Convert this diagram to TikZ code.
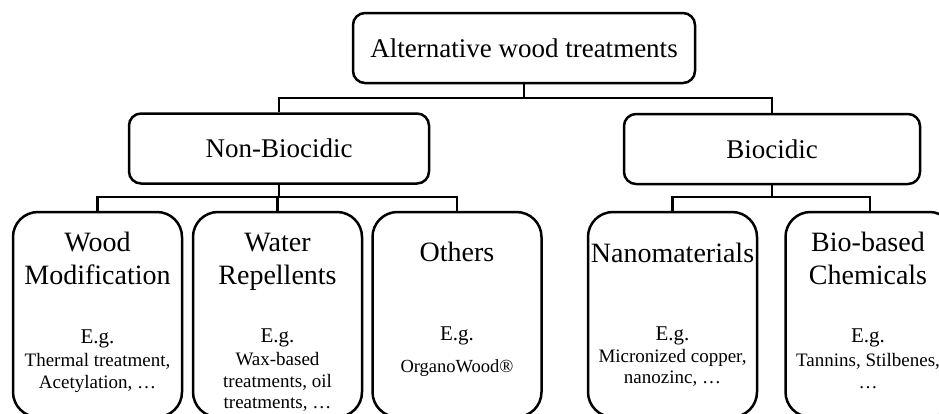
\documentclass[tikz,border=0pt]{standalone}
\usepackage{fontspec}
\setmainfont{Liberation Serif}
\begin{document}
\begin{tikzpicture}[x=1pt,y=-1pt,line width=2.5pt]

        \useasboundingbox (0,0) rectangle (939,413);
        \clip (0,0) rectangle (939,413);

        \begin{scope}[every node/.style={draw,rounded corners=12pt,minimum height=70pt,inner sep=0pt,font=\fontsize{27}{32}\selectfont}]
          \node[minimum width=342pt] (root)   at (524,48)    {Alternative wood treatments};
          \node[minimum width=300pt] (nonbio) at (279,148.5) {Non-Biocidic};
          \node[minimum width=296pt] (bio)    at (772,149)   {Biocidic};
        \end{scope}

        \begin{scope}[every node/.style={draw,rounded corners=25pt,minimum width=169pt,minimum height=205pt}]
          \node (wood)     at (97.5,314.5)  {};
          \node (water)    at (277.5,314.5) {};
          \node (others)   at (457,314.5)   {};
          \node (nano)     at (672.5,314.5) {};
          \node (biobased) at (870,314.5)   {};
        \end{scope}

        \begin{scope}[every node/.style={align=center,inner sep=0pt,font=\fontsize{28}{33}\selectfont}]
          \node (woodhead)   at (97.5,258)  {Wood\\Modification};
          \node (waterhead)  at (277.5,262) {Water\\Repellents};
          \node (othershead) at (457,252)   {Others};
          \node (nanohead)   at (672.5,253) {Nanomaterials};
          \node (biohead)    at (868,258)   {Bio-based\\Chemicals};
        \end{scope}

        \begin{scope}[every node/.style={inner sep=0pt,font=\fontsize{21}{24}\selectfont}]
          \node (woodeg)   at (97.5,339)  {E.g.};
          \node (watereg)  at (277.5,338) {E.g.};
          \node (otherseg) at (457,336)   {E.g.};
          \node (nanoeg)   at (672.5,336) {E.g.};
          \node (bioeg)    at (868,338)   {E.g.};
        \end{scope}

        \begin{scope}[every node/.style={align=center,inner sep=0pt,font=\fontsize{19}{21.5}\selectfont}]
          \node (woodex)   at (97.5,373)  {Thermal treatment,\\Acetylation, …};
          \node (waterex)  at (277.5,382) {Wax-based\\treatments, oil\\treatments, …};
          \node (othersex) at (457,368)   {\fontsize{18.5}{20}\selectfont OrganoWood®};
          \node (nanoex)   at (672.5,368) {Micronized copper,\\nanozinc, …};
          \node (bioex)    at (868,371)   {Tannins, Stilbenes,\\…};
        \end{scope}

        \coordinate (topbus) at (0,98);
        \coordinate (lowbus) at (0,197);

        \draw (root.south) -- (root.south |- topbus) -| (nonbio.north);
        \draw (root.south |- topbus) -| (bio.north);
        \draw (nonbio.south) -- (nonbio.south |- lowbus) -| (wood.north);
        \draw (nonbio.south |- lowbus) -| (water.north);
        \draw (nonbio.south |- lowbus) -| (others.north);
        \draw (bio.south) -- (bio.south |- lowbus) -| (nano.north);
        \draw (bio.south |- lowbus) -| (biobased.north);

      \end{tikzpicture}
\end{document}
